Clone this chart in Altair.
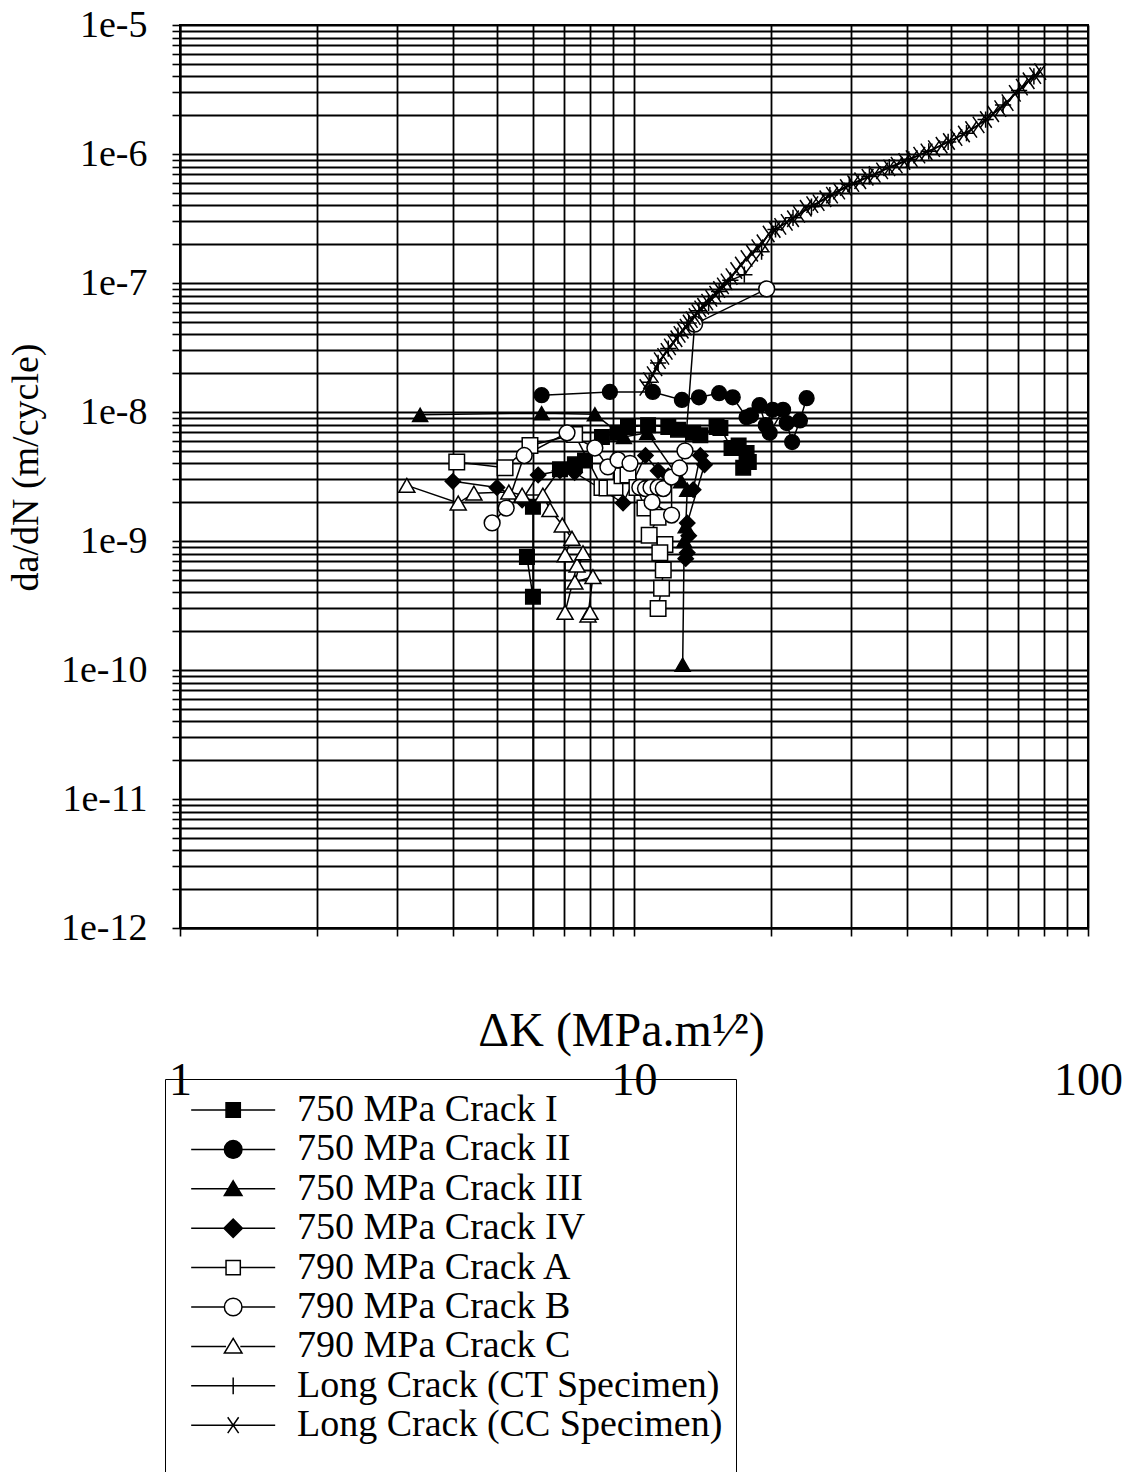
import altair as alt
import pandas as pd

# ---------------- data ----------------
series_names = [
    "750 MPa Crack I",
    "750 MPa Crack II",
    "750 MPa Crack III",
    "750 MPa Crack IV",
    "790 MPa Crack A",
    "790 MPa Crack B",
    "790 MPa Crack C",
    "Long Crack (CT Specimen)",
    "Long Crack (CC Specimen)",
]

dk_I = [5.81, 5.99, 6.0, 5.99, 6.87, 7.41, 7.8, 8.5, 9.2, 9.7, 10.74, 11.9, 12.5, 13.5, 14.0, 15.2, 15.5, 16.4, 17.0, 17.7, 17.4, 17.9]
da_I = [7.5e-10, 3.7e-10, 1e-14, 1.84e-9, 3.6e-9, 3.93e-9, 4.2e-9, 6.4e-9, 6.9e-9, 7.65e-9, 7.9e-9, 7.65e-9, 7.3e-9, 6.9e-9, 6.6e-9, 7.65e-9, 7.5e-9, 5.26e-9, 5.5e-9, 4.8e-9, 3.7e-9, 4.1e-9]

dk_II = [6.26, 8.85, 11.0, 12.75, 13.9, 15.4, 16.5, 17.7, 18.1, 18.9, 19.5, 20.2, 19.9, 21.3, 21.7, 22.3, 23.2, 24.0]
da_II = [1.35e-8, 1.43e-8, 1.43e-8, 1.24e-8, 1.3e-8, 1.4e-8, 1.3e-8, 9.1e-9, 9.4e-9, 1.13e-8, 7.9e-9, 1.04e-8, 6.9e-9, 1.04e-8, 8.2e-9, 5.85e-9, 8.6e-9, 1.28e-8]

dk_III = [3.38, 6.26, 8.2, 9.5, 10.7, 12.7, 13.1, 13.0, 12.9, 12.8]
da_III = [9.5e-9, 9.8e-9, 9.6e-9, 6.4e-9, 6.9e-9, 2.9e-9, 2.5e-9, 1.3e-9, 1.0e-9, 1.1e-10]

dk_IV = [3.99, 4.99, 5.67, 6.15, 6.87, 7.4, 9.46, 10.6, 11.3, 11.9, 13.5, 14.0, 14.3, 13.1, 13.2, 13.1, 13.0]
da_IV = [2.9e-9, 2.6e-9, 2.08e-9, 3.25e-9, 3.5e-9, 3.4e-9, 1.97e-9, 4.6e-9, 3.5e-9, 3.2e-9, 2.5e-9, 4.6e-9, 3.9e-9, 1.38e-9, 1.1e-9, 8.1e-10, 7.3e-10]

dk_A = [4.07, 5.2, 5.9, 7.4, 8.5, 8.72, 9.08, 9.41, 9.7, 10.15, 10.57, 11.3, 10.8, 11.7, 11.4, 11.6, 11.5, 11.3]
da_A = [4.1e-9, 3.7e-9, 5.5e-9, 6.7e-9, 2.6e-9, 2.58e-9, 2.6e-9, 3.2e-9, 3.25e-9, 2.6e-9, 1.8e-9, 1.53e-9, 1.11e-9, 9.4e-10, 8.1e-10, 5.96e-10, 4.3e-10, 3.0e-10]

dk_B = [4.87, 5.23, 5.73, 7.12, 8.2, 8.76, 9.22, 9.8, 10.3, 10.6, 10.9, 11.3, 11.6, 10.96, 12.1, 12.1, 12.6, 12.95, 13.6, 19.6]
da_B = [1.38e-9, 1.8e-9, 4.6e-9, 6.9e-9, 5.26e-9, 3.75e-9, 4.25e-9, 4.0e-9, 2.6e-9, 2.55e-9, 2.6e-9, 2.6e-9, 2.55e-9, 2.0e-9, 1.59e-9, 3.13e-9, 3.68e-9, 5.0e-9, 4.8e-8, 9.0e-8]

dk_C = [3.16, 4.1, 4.44, 5.3, 5.67, 6.3, 6.53, 6.95, 7.3, 7.05, 7.05, 7.49, 7.72, 7.41, 8.12, 7.92, 8.0]
da_C = [2.7e-9, 1.97e-9, 2.35e-9, 2.4e-9, 2.27e-9, 2.27e-9, 1.75e-9, 1.33e-9, 1.05e-9, 7.8e-10, 2.8e-10, 6.5e-10, 8.1e-10, 4.8e-10, 5.3e-10, 2.67e-10, 2.8e-10]

dk_CT = [10.8, 11.3, 11.9, 12.5, 13.2, 13.9, 14.6, 15.4, 16.3, 17.5, 19.1, 20.5, 22.4, 24.6, 27.0, 29.8, 33.0, 36.5, 40.3, 44.6, 49.2, 54.0, 59.5, 65.0, 70.5, 76.0]
da_CT = [1.7e-8, 2.4e-8, 3.1e-8, 3.9e-8, 4.9e-8, 6.1e-8, 7.0e-8, 8.6e-8, 1.05e-7, 1.16e-7, 1.75e-7, 2.6e-7, 3.2e-7, 3.9e-7, 4.8e-7, 5.8e-7, 6.7e-7, 7.9e-7, 9.1e-7, 1.05e-6, 1.24e-6, 1.45e-6, 1.85e-6, 2.4e-6, 3.1e-6, 4.0e-6]

dk_CC = [10.6, 10.8, 11.0, 11.2, 11.4, 11.6, 11.8, 12.0, 12.2, 12.4, 12.6, 12.8, 13.0, 13.2, 13.4, 13.6, 13.8, 14.0, 14.2, 14.5,
         14.8, 15.1, 15.4, 15.7, 16.0, 16.4, 16.8, 17.2, 17.7, 18.2, 18.7, 19.2, 19.8, 20.4, 21.0, 21.7, 22.4, 23.1, 23.9, 24.7,
         25.5, 26.4, 27.3, 28.3, 29.3, 30.4, 31.5, 32.7, 33.9, 35.2, 36.5, 37.9, 39.4, 40.9, 42.5, 44.1, 45.8, 47.6, 49.4, 51.3,
         53.3, 55.3, 57.4, 59.6, 61.8, 64.1, 66.5, 69.0, 71.5, 74.0, 76.5, 78.5]
da_CC = [1.55e-8, 1.75e-8, 1.95e-8, 2.2e-8, 2.5e-8, 2.7e-8, 2.95e-8, 3.2e-8, 3.45e-8, 3.7e-8, 4.0e-8, 4.3e-8, 4.55e-8, 4.9e-8, 5.2e-8, 5.5e-8, 5.9e-8, 6.3e-8, 6.6e-8, 7.1e-8,
         7.6e-8, 8.2e-8, 8.9e-8, 9.5e-8, 1.02e-7, 1.12e-7, 1.25e-7, 1.38e-7, 1.55e-7, 1.7e-7, 1.88e-7, 2.05e-7, 2.4e-7, 2.6e-7, 2.75e-7, 2.95e-7, 3.15e-7, 3.4e-7, 3.8e-7, 4.05e-7,
         4.2e-7, 4.5e-7, 4.8e-7, 5.15e-7, 5.5e-7, 5.9e-7, 6.2e-7, 6.6e-7, 6.95e-7, 7.4e-7, 7.8e-7, 8.2e-7, 8.75e-7, 9.2e-7, 9.8e-7, 1.04e-6, 1.1e-6, 1.17e-6, 1.25e-6, 1.34e-6,
         1.43e-6, 1.55e-6, 1.68e-6, 1.85e-6, 2.05e-6, 2.25e-6, 2.5e-6, 2.95e-6, 3.3e-6, 3.7e-6, 4.05e-6, 4.35e-6]

x_tick_values = [1, 2, 3, 4, 5, 6, 7, 8, 9, 10, 20, 30, 40, 50, 60, 70, 80, 90, 100]
y_decades = [-12, -11, -10, -9, -8, -7, -6]
y_multipliers = [1, 2, 3, 4, 5, 6, 7, 8, 9]
y_tick_values = [float(f"{m}e{d}") for d in y_decades for m in y_multipliers] + [1e-5]

# ---------------- styles ----------------
plot_shapes = [
    "square", "circle", "triangle-up", "diamond",
    "square", "circle", "triangle-up",
    "M-1,0H1M0,-1V1",
    "M-0.7,-1L0.7,1M-0.7,1L0.7,-1",
]
plot_sizes = [210, 272, 290, 340, 210, 272, 290, 300, 300]
plot_stroke_widths = [1.5, 1.5, 1.5, 1.5, 1.5, 1.5, 1.5, 2.4, 2.4]
fills = ["black", "black", "black", "black", "white", "white", "white", "black", "black"]
strokes = ["black"] * 9

# legend glyphs: line from -0.71 to 1.29, marker centred at 0.29 (unit = 42 px)
legend_shapes = [
    "M-0.71,0H0.12M0.46,0H1.29M0.12,-0.17H0.46V0.17H0.12Z",
    "M-0.71,0H0.08M0.5,0H1.29M0.08,0A0.21,0.21 0 1,0 0.5,0A0.21,0.21 0 1,0 0.08,0Z",
    "M-0.71,0H1.29M0.29,-0.19L0.5,0.16L0.08,0.16Z",
    "M-0.71,0H0.07M0.51,0H1.29M0.29,-0.22L0.51,0L0.29,0.22L0.07,0Z",
    "M-0.71,0H0.12M0.46,0H1.29M0.12,-0.17H0.46V0.17H0.12Z",
    "M-0.71,0H0.08M0.5,0H1.29M0.08,0A0.21,0.21 0 1,0 0.5,0A0.21,0.21 0 1,0 0.08,0Z",
    "M-0.71,0H0.12M0.46,0H1.29M0.29,-0.19L0.5,0.16L0.08,0.16Z",
    "M-0.71,0H1.29M0.29,-0.2V0.2",
    "M-0.71,0H1.29M0.16,-0.19L0.42,0.19M0.16,0.19L0.42,-0.19",
]

all_dk = [dk_I, dk_II, dk_III, dk_IV, dk_A, dk_B, dk_C, dk_CT, dk_CC]
all_da = [da_I, da_II, da_III, da_IV, da_A, da_B, da_C, da_CT, da_CC]

rows = []
for name, xs, ys in zip(series_names, all_dk, all_da):
    for i, (xv, yv) in enumerate(zip(xs, ys)):
        rows.append({"series": name, "dK": xv, "dadN": yv, "idx": i})
df = pd.DataFrame(rows)

FONT = "Liberation Serif"

x_enc = alt.X(
    "dK:Q",
    scale=alt.Scale(type="log", domain=[1, 100], nice=False),
    axis=alt.Axis(
        values=x_tick_values,
        labelExpr="(datum.value == 1 || datum.value == 10 || datum.value == 100) ? datum.value : ''",
        grid=True, gridColor="black", gridWidth=1.8, gridOpacity=1,
        domainColor="black", domainWidth=2,
        tickColor="black", tickSize=8, tickWidth=1.6,
        labelFont=FONT, labelFontSize=46, labelColor="black",
        labelBaseline="middle", labelPadding=144, labelOverlap=False, labelFlush=False,
        title="ΔK (MPa.m¹⁄²)", titleFont=FONT, titleFontSize=48, titleFontWeight="normal",
        titleColor="black", titleX=441, titleY=117, titleBaseline="alphabetic", titleAlign="center",
    ),
)
y_enc = alt.Y(
    "dadN:Q",
    scale=alt.Scale(type="log", domain=[1e-12, 1e-5], nice=False),
    axis=alt.Axis(
        values=y_tick_values,
        labelExpr="abs(log(datum.value)/LN10 - round(log(datum.value)/LN10)) < 0.001 ? '1e' + round(log(datum.value)/LN10) : ''",
        grid=True, gridColor="black", gridWidth=1.8, gridOpacity=1,
        domainColor="black", domainWidth=2,
        tickColor="black", tickSize=8, tickWidth=1.6,
        labelFont=FONT, labelFontSize=38, labelColor="black", labelPadding=25, labelOverlap=False,
        title="da/dN (m/cycle)", titleFont=FONT, titleFontSize=38, titleFontWeight="normal",
        titleColor="black", titleAngle=270, titleX=-143, titleY=442,
        titleBaseline="alphabetic", titleAlign="center",
    ),
)

base = alt.Chart(df)

lines = base.mark_line(color="black", strokeWidth=1.5, clip=True).encode(
    x=x_enc, y=y_enc, detail="series:N", order="idx:Q"
)

points = base.mark_point(opacity=1, clip=True).encode(
    x=x_enc, y=y_enc,
    shape=alt.Shape("series:N", scale=alt.Scale(domain=series_names, range=plot_shapes), legend=None),
    fill=alt.Fill("series:N", scale=alt.Scale(domain=series_names, range=fills), legend=None),
    stroke=alt.Stroke("series:N", scale=alt.Scale(domain=series_names, range=strokes), legend=None),
    size=alt.Size("series:N", scale=alt.Scale(domain=series_names, range=plot_sizes), legend=None),
    strokeWidth=alt.StrokeWidth("series:N", scale=alt.Scale(domain=series_names, range=plot_stroke_widths), legend=None),
)

leg = alt.Legend(
    title=" ", titleOrient="bottom", titleFontSize=40, titlePadding=20,
    orient="none", legendX=-15, legendY=1054,
    labelFont=FONT, labelFontSize=38, labelColor="black", labelLimit=0,
    symbolSize=7056, symbolStrokeWidth=1.5, symbolStrokeColor="black", symbolOpacity=1,
    strokeColor="black", fillColor="transparent", padding=13, rowPadding=1.4,
    clipHeight=36, labelOffset=33,
)

legend_layer = base.mark_point(strokeWidth=1.5, opacity=0, clip=True).encode(
    x=x_enc, y=y_enc,
    shape=alt.Shape("series:N", scale=alt.Scale(domain=series_names, range=legend_shapes), legend=leg),
    fill=alt.Fill("series:N", scale=alt.Scale(domain=series_names, range=fills), legend=leg),
    stroke=alt.Stroke("series:N", scale=alt.Scale(domain=series_names, range=strokes), legend=leg),
)

chart = (
    alt.layer(lines, points, legend_layer)
    .resolve_scale(shape="independent", fill="independent", stroke="independent",
                   size="independent", strokeWidth="independent")
    .properties(
        width=908, height=903,
        autosize=alt.AutoSizeParams(type="none"),
        padding={"left": 180, "top": 25, "right": 39, "bottom": 544},
        background="white",
    )
    .configure_view(stroke="black", strokeWidth=2)
)

chart.save("out.html", embed_options={"renderer": "svg", "actions": False})
